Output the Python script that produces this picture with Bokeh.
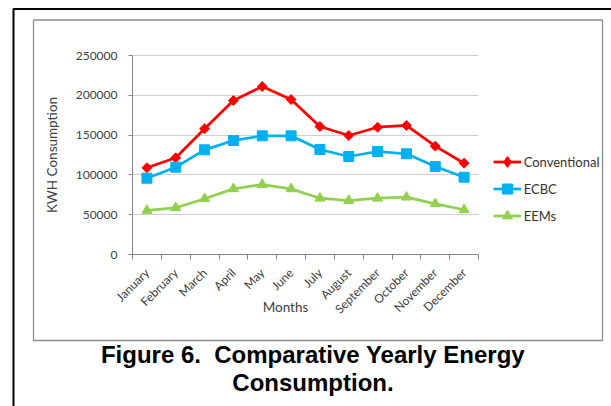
import math
from bokeh.plotting import figure
from bokeh.models import (Range1d, FixedTicker, Legend, LegendItem, Label,
                          BoxAnnotation, NumeralTickFormatter, Grid)
from bokeh.embed import file_html
from bokeh.resources import INLINE

# ---- data ----
months = ["January", "February", "March", "April", "May", "June", "July",
          "August", "September", "October", "November", "December"]
conventional = [109000, 121500, 158000, 193500, 211000, 194700, 160800,
                149500, 159900, 162100, 136100, 114700]
ecbc = [95900, 109700, 131500, 143200, 149100, 149100, 131900,
        123100, 129400, 126500, 110600, 97100]
eems = [55300, 58700, 70000, 82500, 87900, 82500, 70700,
        67800, 70700, 72000, 63700, 56200]
y_ticks = [0, 50000, 100000, 150000, 200000, 250000]
series_names = ["Conventional", "ECBC", "EEMs"]
series_colors = ["#FF0000", "#00B0F0", "#92D050"]

# ---- layout (pixels) ----
W, H = 611, 406
PL, PR, PT, PB = 132, 478, 55, 254       # plot area edges

nx = len(months)
x = [i + 0.5 for i in range(nx)]
boundaries = list(range(nx + 1))
ymax = y_ticks[-1]

ppx = (PR - PL) / nx
ppy = (PB - PT) / ymax
x_range = Range1d(-PL / ppx, nx + (W - PR) / ppx)
y_range = Range1d(-(H - PB) / ppy, ymax + PT / ppy)

TXT = "#404040"
AXC = "#868686"

p = figure(width=W, height=H, output_backend="svg", toolbar_location=None,
           x_range=x_range, y_range=y_range,
           min_border_left=0, min_border_right=0, min_border_top=0,
           min_border_bottom=0)
p.outline_line_color = None
p.background_fill_color = "white"
p.border_fill_color = "white"

# y axis (drawn at x = 0 inside the frame)
yax = p.yaxis[0]
yax.fixed_location = 0
yax.bounds = (0, ymax)
yax.ticker = FixedTicker(ticks=y_ticks)
yax.formatter = NumeralTickFormatter(format="0")
yax.axis_line_color = AXC
yax.major_tick_line_color = AXC
yax.major_tick_out = 4
yax.major_tick_in = 0
yax.minor_tick_line_color = None
yax.major_label_text_font = "Lato"
yax.major_label_text_font_size = "12px"
yax.major_label_text_color = TXT
yax.major_label_standoff = 11
yax.axis_label = "KWH Consumption"
yax.axis_label_text_font = "Lato"
yax.axis_label_text_font_size = "13.5px"
yax.axis_label_text_font_style = "normal"
yax.axis_label_text_color = TXT
yax.axis_label_standoff = 13

# x axis (drawn at y = 0 inside the frame)
xax = p.xaxis[0]
xax.fixed_location = 0
xax.bounds = (0, nx)
xax.ticker = FixedTicker(ticks=x, minor_ticks=boundaries)
xax.major_label_overrides = {xi: m for xi, m in zip(x, months)}
xax.major_tick_line_color = None
xax.minor_tick_line_color = AXC
xax.minor_tick_out = 5
xax.minor_tick_in = 0
xax.axis_line_color = AXC
xax.major_label_orientation = math.pi / 4
xax.major_label_text_font = "Lato"
xax.major_label_text_font_size = "12px"
xax.major_label_text_color = TXT
xax.major_label_standoff = 10

# grid
p.xgrid.visible = False
p.ygrid.visible = False
if "cross_bounds" in Grid.properties():
    g = Grid(dimension=1, ticker=FixedTicker(ticks=y_ticks), bounds=(0, ymax),
             cross_bounds=(0, nx), grid_line_color="#d0d0d0", grid_line_width=1.2)
    p.add_layout(g)
else:
    p.segment(x0=0, x1=nx, y0=y_ticks, y1=y_ticks, line_color="#d0d0d0",
              line_width=1.2, level="underlay")

# series
items = []
specs = [(conventional, "square", 7, math.pi / 4, "diamond"),
         (ecbc, "square", 10, 0, None),
         (eems, "triangle", 10, 0, None)]
for name, color, (vals, marker, size, ang, leg_marker) in zip(series_names, series_colors, specs):
    r1 = p.line(x, vals, line_color=color, line_width=2.75)
    if leg_marker is not None:
        # small diamond fully covered by the rotated square; it supplies the
        # legend swatch (legend markers are always drawn unrotated)
        r3 = p.scatter(x, vals, marker=leg_marker, size=5, fill_color=color,
                       line_color=color, line_width=1.5)
    r2 = p.scatter(x, vals, marker=marker, size=size, angle=ang,
                   fill_color=color, line_color=color)
    items.append(LegendItem(label=name,
                            renderers=[r1, r3] if leg_marker is not None else [r1, r2]))

legend = Legend(items=items, location=(492.7, H - 228.2), orientation="vertical",
                glyph_width=28, glyph_height=25, label_height=20, spacing=2,
                padding=0, margin=0, border_line_color=None,
                background_fill_alpha=0, label_standoff=3,
                label_text_font="Lato", label_text_font_size="13px",
                label_text_color="#333333")
p.add_layout(legend)

# x axis title
p.add_layout(Label(x=285, y=H - 306.7, x_units="screen", y_units="screen",
                   text="Months", text_align="center", text_baseline="middle",
                   text_font="Lato", text_font_size="13.5px", text_color=TXT))

# frames
p.add_layout(BoxAnnotation(left=33, right=602, top=H - 19.5, bottom=H - 340,
                           left_units="screen", right_units="screen",
                           top_units="screen", bottom_units="screen",
                           fill_color=None, fill_alpha=0,
                           line_color="#8c8c8c", line_alpha=1, line_width=1.3))
p.add_layout(BoxAnnotation(left=13, right=W + 100, top=H - 8.5, bottom=-100,
                           left_units="screen", right_units="screen",
                           top_units="screen", bottom_units="screen",
                           fill_color=None, fill_alpha=0,
                           line_color="black", line_alpha=1, line_width=2))

# caption
for txt, yy in [("Figure 6.\u00a0 Comparative Yearly Energy", 354),
                ("Consumption.", 381.7)]:
    p.add_layout(Label(x=312.5, y=H - yy, x_units="screen", y_units="screen",
                       text=txt, text_align="center", text_baseline="middle",
                       text_font="Liberation Sans", text_font_size="24px",
                       text_font_style="bold", text_color="black"))

open("out.html", "w").write(file_html(p, INLINE))
